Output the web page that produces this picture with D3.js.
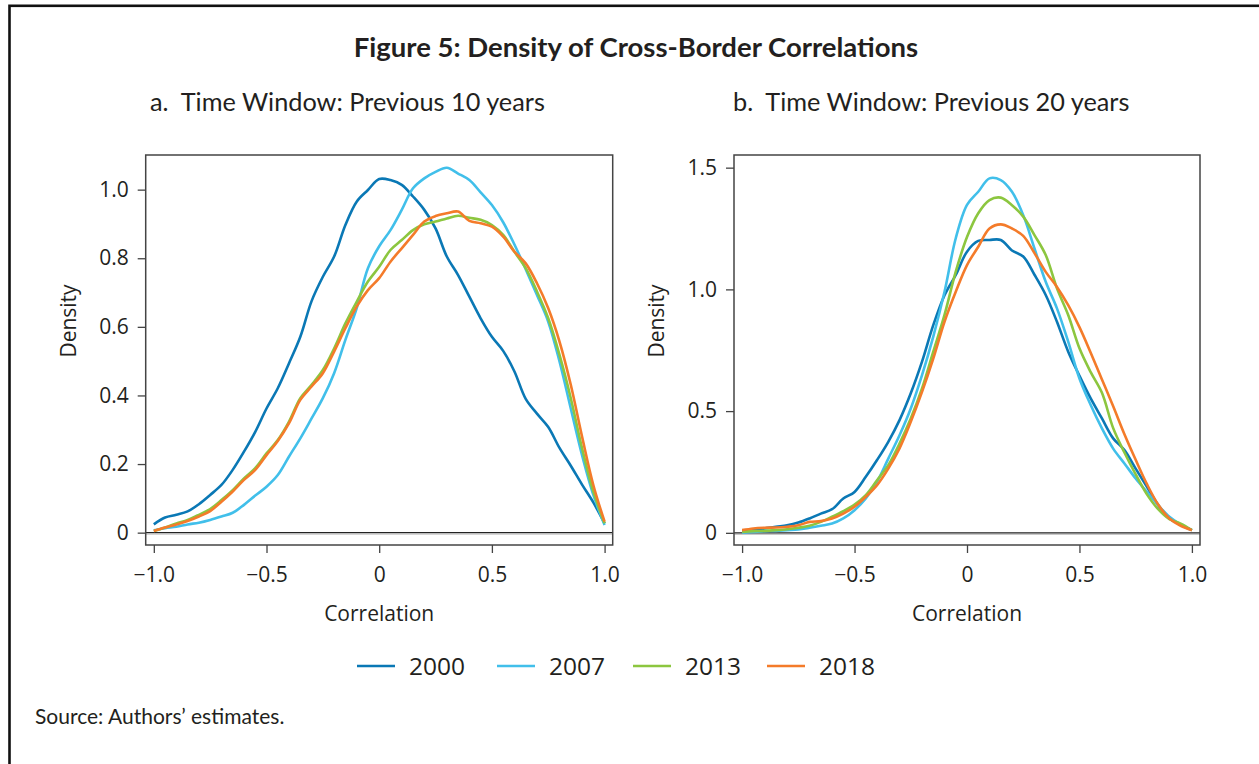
<!DOCTYPE html>
<html>
<head>
<meta charset="utf-8">
<script src="https://cdn.jsdelivr.net/npm/d3@7"></script>
<style>
  body { margin: 0; background: #fff; }
  svg text { fill: #231f20; }
</style>
</head>
<body>
<svg></svg>
<script>
let width = 1259;
let height = 764;

// correlation grid (x values shared by every curve)
let correlation = [-1.00, -0.95, -0.90, -0.85, -0.80, -0.75, -0.70, -0.65, -0.60, -0.55,
                   -0.50, -0.45, -0.40, -0.35, -0.30, -0.25, -0.20, -0.15, -0.10, -0.05,
                    0.00,  0.05,  0.10,  0.15,  0.20,  0.25,  0.30,  0.35,  0.40,  0.45,
                    0.50,  0.55,  0.60,  0.65,  0.70,  0.75,  0.80,  0.85,  0.90,  0.95, 1.00];

let years = ['2000', '2007', '2013', '2018'];
let colors = ['#0a78b5', '#41bfea', '#8cc63f', '#f47b2a'];

// panel a: previous 10 years
let a2000 = [0.024, 0.044, 0.052, 0.062, 0.083, 0.110, 0.139, 0.183, 0.236, 0.294,
             0.362, 0.421, 0.494, 0.571, 0.675, 0.746, 0.805, 0.897, 0.965, 0.999,
             1.031, 1.028, 1.014, 0.980, 0.941, 0.887, 0.805, 0.751, 0.688, 0.625,
             0.571, 0.530, 0.470, 0.390, 0.347, 0.308, 0.247, 0.195, 0.140, 0.088, 0.027];
let a2007 = [0.007, 0.013, 0.017, 0.024, 0.029, 0.037, 0.047, 0.058, 0.081, 0.108,
             0.134, 0.168, 0.222, 0.275, 0.333, 0.392, 0.465, 0.562, 0.654, 0.771,
             0.835, 0.882, 0.941, 1.004, 1.033, 1.052, 1.064, 1.047, 1.028, 0.992,
             0.955, 0.905, 0.840, 0.768, 0.693, 0.615, 0.499, 0.362, 0.226, 0.110, 0.022];
let a2013 = [0.005, 0.015, 0.027, 0.037, 0.052, 0.069, 0.095, 0.124, 0.158, 0.188,
             0.231, 0.270, 0.324, 0.392, 0.431, 0.474, 0.537, 0.610, 0.673, 0.732,
             0.775, 0.824, 0.853, 0.882, 0.899, 0.907, 0.916, 0.924, 0.918, 0.912,
             0.897, 0.868, 0.819, 0.771, 0.703, 0.625, 0.518, 0.392, 0.246, 0.120, 0.027];
let a2018 = [0.005, 0.015, 0.024, 0.034, 0.047, 0.063, 0.090, 0.120, 0.154, 0.183,
             0.226, 0.267, 0.319, 0.387, 0.426, 0.465, 0.528, 0.596, 0.659, 0.707,
             0.742, 0.790, 0.829, 0.868, 0.907, 0.923, 0.931, 0.936, 0.909, 0.902,
             0.892, 0.863, 0.819, 0.785, 0.727, 0.654, 0.557, 0.431, 0.280, 0.139, 0.032];

// panel b: previous 20 years
let b2000 = [0.007, 0.011, 0.018, 0.025, 0.031, 0.042, 0.059, 0.079, 0.097, 0.141,
             0.168, 0.230, 0.299, 0.374, 0.463, 0.573, 0.703, 0.853, 0.976, 1.059,
             1.155, 1.199, 1.203, 1.203, 1.160, 1.135, 1.060, 0.977, 0.867, 0.744,
             0.645, 0.552, 0.470, 0.388, 0.340, 0.264, 0.189, 0.114, 0.059, 0.034, 0.011];
let b2007 = [0.001, 0.004, 0.007, 0.008, 0.011, 0.014, 0.021, 0.029, 0.038, 0.059,
             0.093, 0.141, 0.210, 0.305, 0.401, 0.511, 0.648, 0.806, 0.990, 1.210,
             1.347, 1.401, 1.456, 1.449, 1.401, 1.305, 1.168, 1.031, 0.922, 0.785,
             0.634, 0.525, 0.429, 0.346, 0.285, 0.223, 0.168, 0.114, 0.066, 0.034, 0.011];
let b2013 = [0.004, 0.007, 0.008, 0.011, 0.015, 0.021, 0.029, 0.045, 0.066, 0.089,
             0.116, 0.155, 0.216, 0.278, 0.367, 0.470, 0.593, 0.744, 0.895, 1.073,
             1.215, 1.313, 1.367, 1.377, 1.346, 1.299, 1.223, 1.141, 1.004, 0.895,
             0.758, 0.660, 0.575, 0.430, 0.330, 0.240, 0.158, 0.097, 0.056, 0.038, 0.011];
let b2018 = [0.011, 0.018, 0.021, 0.022, 0.025, 0.031, 0.045, 0.048, 0.059, 0.079,
             0.107, 0.148, 0.196, 0.264, 0.347, 0.456, 0.579, 0.716, 0.867, 0.990,
             1.100, 1.175, 1.250, 1.267, 1.250, 1.220, 1.149, 1.072, 1.010, 0.935,
             0.845, 0.740, 0.630, 0.520, 0.405, 0.300, 0.200, 0.116, 0.059, 0.029, 0.011];

// ticks
let xTicks = [-1, -0.5, 0, 0.5, 1];
let xTickLabels = ['\u22121.0', '\u22120.5', '0', '0.5', '1.0'];
let aYTicks = [0, 0.2, 0.4, 0.6, 0.8, 1.0];
let aYTickLabels = ['0', '0.2', '0.4', '0.6', '0.8', '1.0'];
let bYTicks = [0, 0.5, 1.0, 1.5];
let bYTickLabels = ['0', '0.5', '1.0', '1.5'];

let svg = d3.select('svg')
            .attr('width', width)
            .attr('height', height);

let tickFont = "'Open Sans', sans-serif";
let textFont = "Lato, sans-serif";

// frame (runs off the right/bottom edge in the source)
svg.append('rect')
   .attr('x', 9.5).attr('y', 5.8)
   .attr('width', 1300).attr('height', 800)
   .attr('fill', 'none')
   .attr('stroke', '#111')
   .attr('stroke-width', 2.6);

svg.append('text')
   .attr('x', 636).attr('y', 57)
   .attr('text-anchor', 'middle')
   .style('font-family', textFont)
   .style('font-weight', 'bold')
   .style('font-size', '27.5px')
   .text('Figure 5: Density of Cross-Border Correlations');

function drawPanel(left, right, titleX, subtitle, series, yDomain, yTicks, yTickLabels) {
  let x = d3.scaleLinear().domain([-1.036, 1.036]).range([left, right]);
  let y = d3.scaleLinear().domain(yDomain).range([545, 155]);

  svg.append('text')
     .attr('x', titleX).attr('y', 111)
     .style('font-family', textFont)
     .style('font-size', '25.3px')
     .style('white-space', 'pre')
     .text(subtitle);

  // zero line
  svg.append('line')
     .attr('x1', left).attr('x2', right)
     .attr('y1', y(0) + 1.6).attr('y2', y(0) + 1.6)
     .attr('stroke', '#c8c8c8').attr('stroke-width', 1.2);
  svg.append('line')
     .attr('x1', left).attr('x2', right)
     .attr('y1', y(0)).attr('y2', y(0))
     .attr('stroke', '#222').attr('stroke-width', 1.4);

  let line = d3.line()
               .x((d, i) => x(correlation[i]))
               .y(d => y(d))
               .curve(d3.curveCatmullRom.alpha(0.5));

  svg.append('g')
     .selectAll('path')
     .data(series)
     .enter()
     .append('path')
     .attr('d', d => line(d))
     .attr('fill', 'none')
     .attr('stroke', (d, i) => colors[i])
     .attr('stroke-width', 2.6)
     .attr('stroke-linejoin', 'round');

  // box
  svg.append('rect')
     .attr('x', left).attr('y', 155)
     .attr('width', right - left).attr('height', 390)
     .attr('fill', 'none')
     .attr('stroke', '#444')
     .attr('stroke-width', 1.5);

  let xAxis = svg.append('g')
     .attr('transform', 'translate(0,545)')
     .call(d3.axisBottom(x)
             .tickValues(xTicks)
             .tickFormat((d, i) => xTickLabels[i])
             .tickSize(8)
             .tickPadding(14));

  let yAxis = svg.append('g')
     .attr('transform', 'translate(' + left + ',0)')
     .call(d3.axisLeft(y)
             .tickValues(yTicks)
             .tickFormat((d, i) => yTickLabels[i])
             .tickSize(8)
             .tickPadding(9));

  [xAxis, yAxis].forEach(g => {
    g.select('.domain').remove();
    g.selectAll('line').attr('stroke', '#444').attr('stroke-width', 1.3);
    g.selectAll('text')
     .style('font-family', tickFont)
     .style('font-size', '21px')
     .attr('fill', '#231f20');
  });

  svg.append('text')
     .attr('x', (left + right) / 2).attr('y', 621)
     .attr('text-anchor', 'middle')
     .style('font-family', tickFont)
     .style('font-size', '21px')
     .text('Correlation');

  svg.append('text')
     .attr('transform', 'translate(' + (left - 70) + ',321) rotate(-90)')
     .attr('text-anchor', 'middle')
     .style('font-family', tickFont)
     .style('font-size', '21px')
     .text('Density');
}

drawPanel(145.7, 612.7, 150, 'a.  Time Window: Previous 10 years',
          [a2000, a2007, a2013, a2018], [-0.036, 1.101], aYTicks, aYTickLabels);
drawPanel(734, 1200, 733, 'b.  Time Window: Previous 20 years',
          [b2000, b2007, b2013, b2018], [-0.05, 1.552], bYTicks, bYTickLabels);

// legend
let legendX = [357, 497, 633, 767];
let legend = svg.append('g')
                .selectAll('g')
                .data(years)
                .enter()
                .append('g')
                .attr('transform', (d, i) => 'translate(' + legendX[i] + ',666)');

legend.append('line')
      .attr('x1', 0).attr('x2', 38)
      .attr('stroke', (d, i) => colors[i])
      .attr('stroke-width', 2.6);

legend.append('text')
      .attr('x', 52).attr('y', 8.5)
      .style('font-family', tickFont)
      .style('font-size', '24.5px')
      .text(d => d);

svg.append('text')
   .attr('x', 35).attr('y', 724)
   .style('font-family', textFont)
   .style('font-size', '21px')
   .text('Source: Authors\u2019 estimates.');
</script>
</body>
</html>
